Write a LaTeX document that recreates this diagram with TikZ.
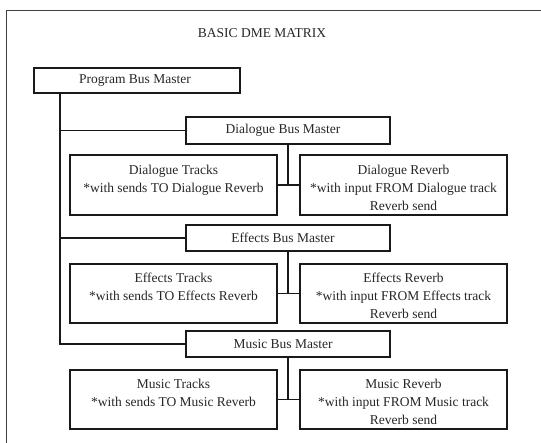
\documentclass[tikz,border=0pt]{standalone}
\usepackage{fontspec}
\setmainfont{Liberation Serif}
\newcommand{\toprl}{\rule{0pt}{15pt}}
\begin{document}
\begin{tikzpicture}[x=1pt,y=1pt,
  box/.style={draw=black!90,line width=1.3pt,rectangle,inner sep=0pt,align=center,
    text=black!85,font=\fontsize{13.5}{18}\selectfont},
  link/.style={draw=black!90,line width=1.3pt},
  frame/.style={draw=black!75,line width=0.9pt}]
\useasboundingbox (0,0) rectangle (541,-443);
\draw[frame] (6.5,-443) -- (6.5,-10.5) -- (541,-10.5);
\node[text=black!85,font=\fontsize{13.5}{18}\selectfont] (title) at (262,-33) {BASIC DME MATRIX};
\node[box,minimum width=206pt,minimum height=25pt] (prog) at (137,-80.5) {\hspace*{-4pt}Program Bus Master};
\node[box,minimum width=204pt,minimum height=27pt] (dbus) at (288,-130.5) {\hspace*{-10pt}Dialogue Bus Master};
\node[box,minimum width=204pt,minimum height=26pt] (ebus) at (288,-238) {\hspace*{-10pt}Effects Bus Master};
\node[box,minimum width=204pt,minimum height=26pt] (mbus) at (288,-344) {\hspace*{-10pt}Music Bus Master};
\node[box,minimum width=207pt,minimum height=60pt] (dtr) at (173.5,-185) {\toprl Dialogue Tracks\\*with sends TO Dialogue Reverb\\\phantom{Reverb send}};
\node[box,minimum width=207pt,minimum height=60pt] (drv) at (403.5,-185) {\toprl Dialogue Reverb\\*with input FROM Dialogue track\\Reverb send};
\node[box,minimum width=207pt,minimum height=59pt] (etr) at (173.5,-293.5) {\toprl Effects Tracks\\*with sends TO Effects Reverb\\\phantom{Reverb send}};
\node[box,minimum width=207pt,minimum height=59pt] (erv) at (403.5,-293.5) {\toprl Effects Reverb\\*with input FROM Effects track\\Reverb send};
\node[box,minimum width=207pt,minimum height=59pt] (mtr) at (173.5,-399.5) {\toprl Music Tracks\\*with sends TO Music Reverb\\\phantom{Reverb send}};
\node[box,minimum width=207pt,minimum height=59pt] (mrv) at (403.5,-399.5) {\toprl Music Reverb\\*with input FROM Music track\\Reverb send};
\coordinate (trunk) at (60,0);
\draw[link] (prog.south -| trunk) |- (mbus.west);
\draw[link] (trunk |- dbus.west) -- (dbus.west);
\draw[link] (trunk |- ebus.west) -- (ebus.west);
\draw[link] (dbus.south) -- (dbus.south |- dtr.east);
\draw[link] (dtr.east) -- (drv.west);
\draw[link] (ebus.south) -- (ebus.south |- etr.east);
\draw[link] (etr.east) -- (erv.west);
\draw[link] (mbus.south) -- (mbus.south |- mtr.east);
\draw[link] (mtr.east) -- (mrv.west);
\end{tikzpicture}
\end{document}
